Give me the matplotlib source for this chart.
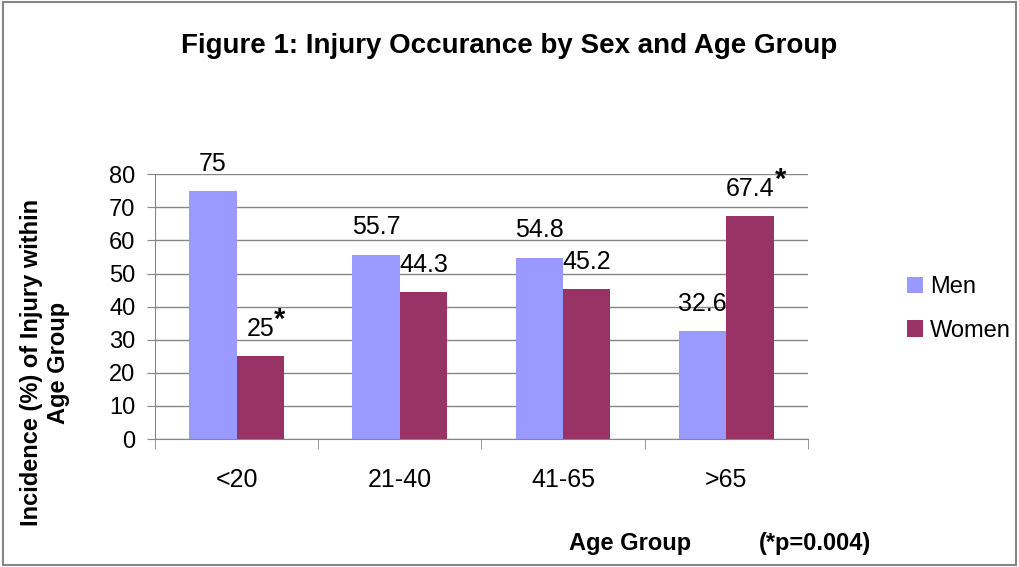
import matplotlib.pyplot as plt
import numpy as np
from matplotlib.patches import Rectangle

groups = ["<20", "21-40", "41-65", ">65"]
men = [75, 55.7, 54.8, 32.6]
women = [25, 44.3, 45.2, 67.4]
women_sig = [True, False, False, True]

plt.rcParams['font.family'] = ['Liberation Sans', 'DejaVu Sans']

fig = plt.figure(figsize=(10.19, 5.67), dpi=100)
ax = fig.add_axes([0.152, 0.2257, 0.641, 0.467])

x = np.arange(len(groups))
w = 0.29
b1 = ax.bar(x - w / 2, men, w, color='#9999FF', label='Men')
b2 = ax.bar(x + w / 2, women, w, color='#993366', label='Women')

for xi, v in zip(x, men):
    ax.annotate(f"{v:g}", xy=(xi - w / 2, v), xytext=(0, 11), textcoords='offset points',
                ha='center', va='bottom', fontsize=18)
for xi, v, s in zip(x, women, women_sig):
    t = ax.annotate(f"{v:g}", xy=(xi + w / 2, v), xytext=(0, 11), textcoords='offset points',
                    ha='center', va='bottom', fontsize=18)
    if s:
        ax.annotate('*', xy=(1, 1), xycoords=t, xytext=(0, -2), textcoords='offset points',
                    ha='left', va='center', fontsize=21, fontweight='bold')

ax.set_xlim(-0.5, len(groups) - 0.5)
ax.set_ylim(0, 80)
ax.set_yticks(range(0, 81, 10))
ax.set_xticks(x)
ax.set_xticklabels(groups, fontsize=18)
ax.tick_params(axis='x', length=0, pad=21)
ax.set_xticks(np.arange(-0.5, len(groups), 1), minor=True)
ax.tick_params(axis='x', which='minor', length=7, color='#868686', direction='out')
ax.tick_params(axis='y', labelsize=17, length=6, color='#868686', pad=8)
ax.yaxis.grid(True, color='#868686', linewidth=1)
ax.set_axisbelow(True)
for s in ['top', 'right']:
    ax.spines[s].set_visible(False)
ax.spines['left'].set_color('#868686')
ax.spines['bottom'].set_color('#868686')

fig.text(0.5, 0.918, "Figure 1: Injury Occurance by Sex and Age Group", ha='center', va='center',
         fontsize=20, fontweight='bold')
fig.text(0.044, 0.36, "Incidence (%) of Injury within\nAge Group", rotation=90, ha='center', va='center',
         fontsize=17, fontweight='bold', linespacing=1.25)
fig.text(0.618, 0.042, "Age Group", ha='center', va='center', fontsize=17, fontweight='bold')
fig.text(0.80, 0.042, "(*p=0.004)", ha='center', va='center', fontsize=17, fontweight='bold')

fig.legend(handles=[b1, b2], loc='center left', bbox_to_anchor=(0.869, 0.455), frameon=False,
           fontsize=17, handlelength=0.7, handleheight=0.7, handletextpad=0.3, labelspacing=0.9)

fig.patches.append(Rectangle((0.003, 0.004), 0.994, 0.992, transform=fig.transFigure,
                             fill=False, edgecolor='#868686', linewidth=1.5))

fig.savefig('out.png', dpi=100)
